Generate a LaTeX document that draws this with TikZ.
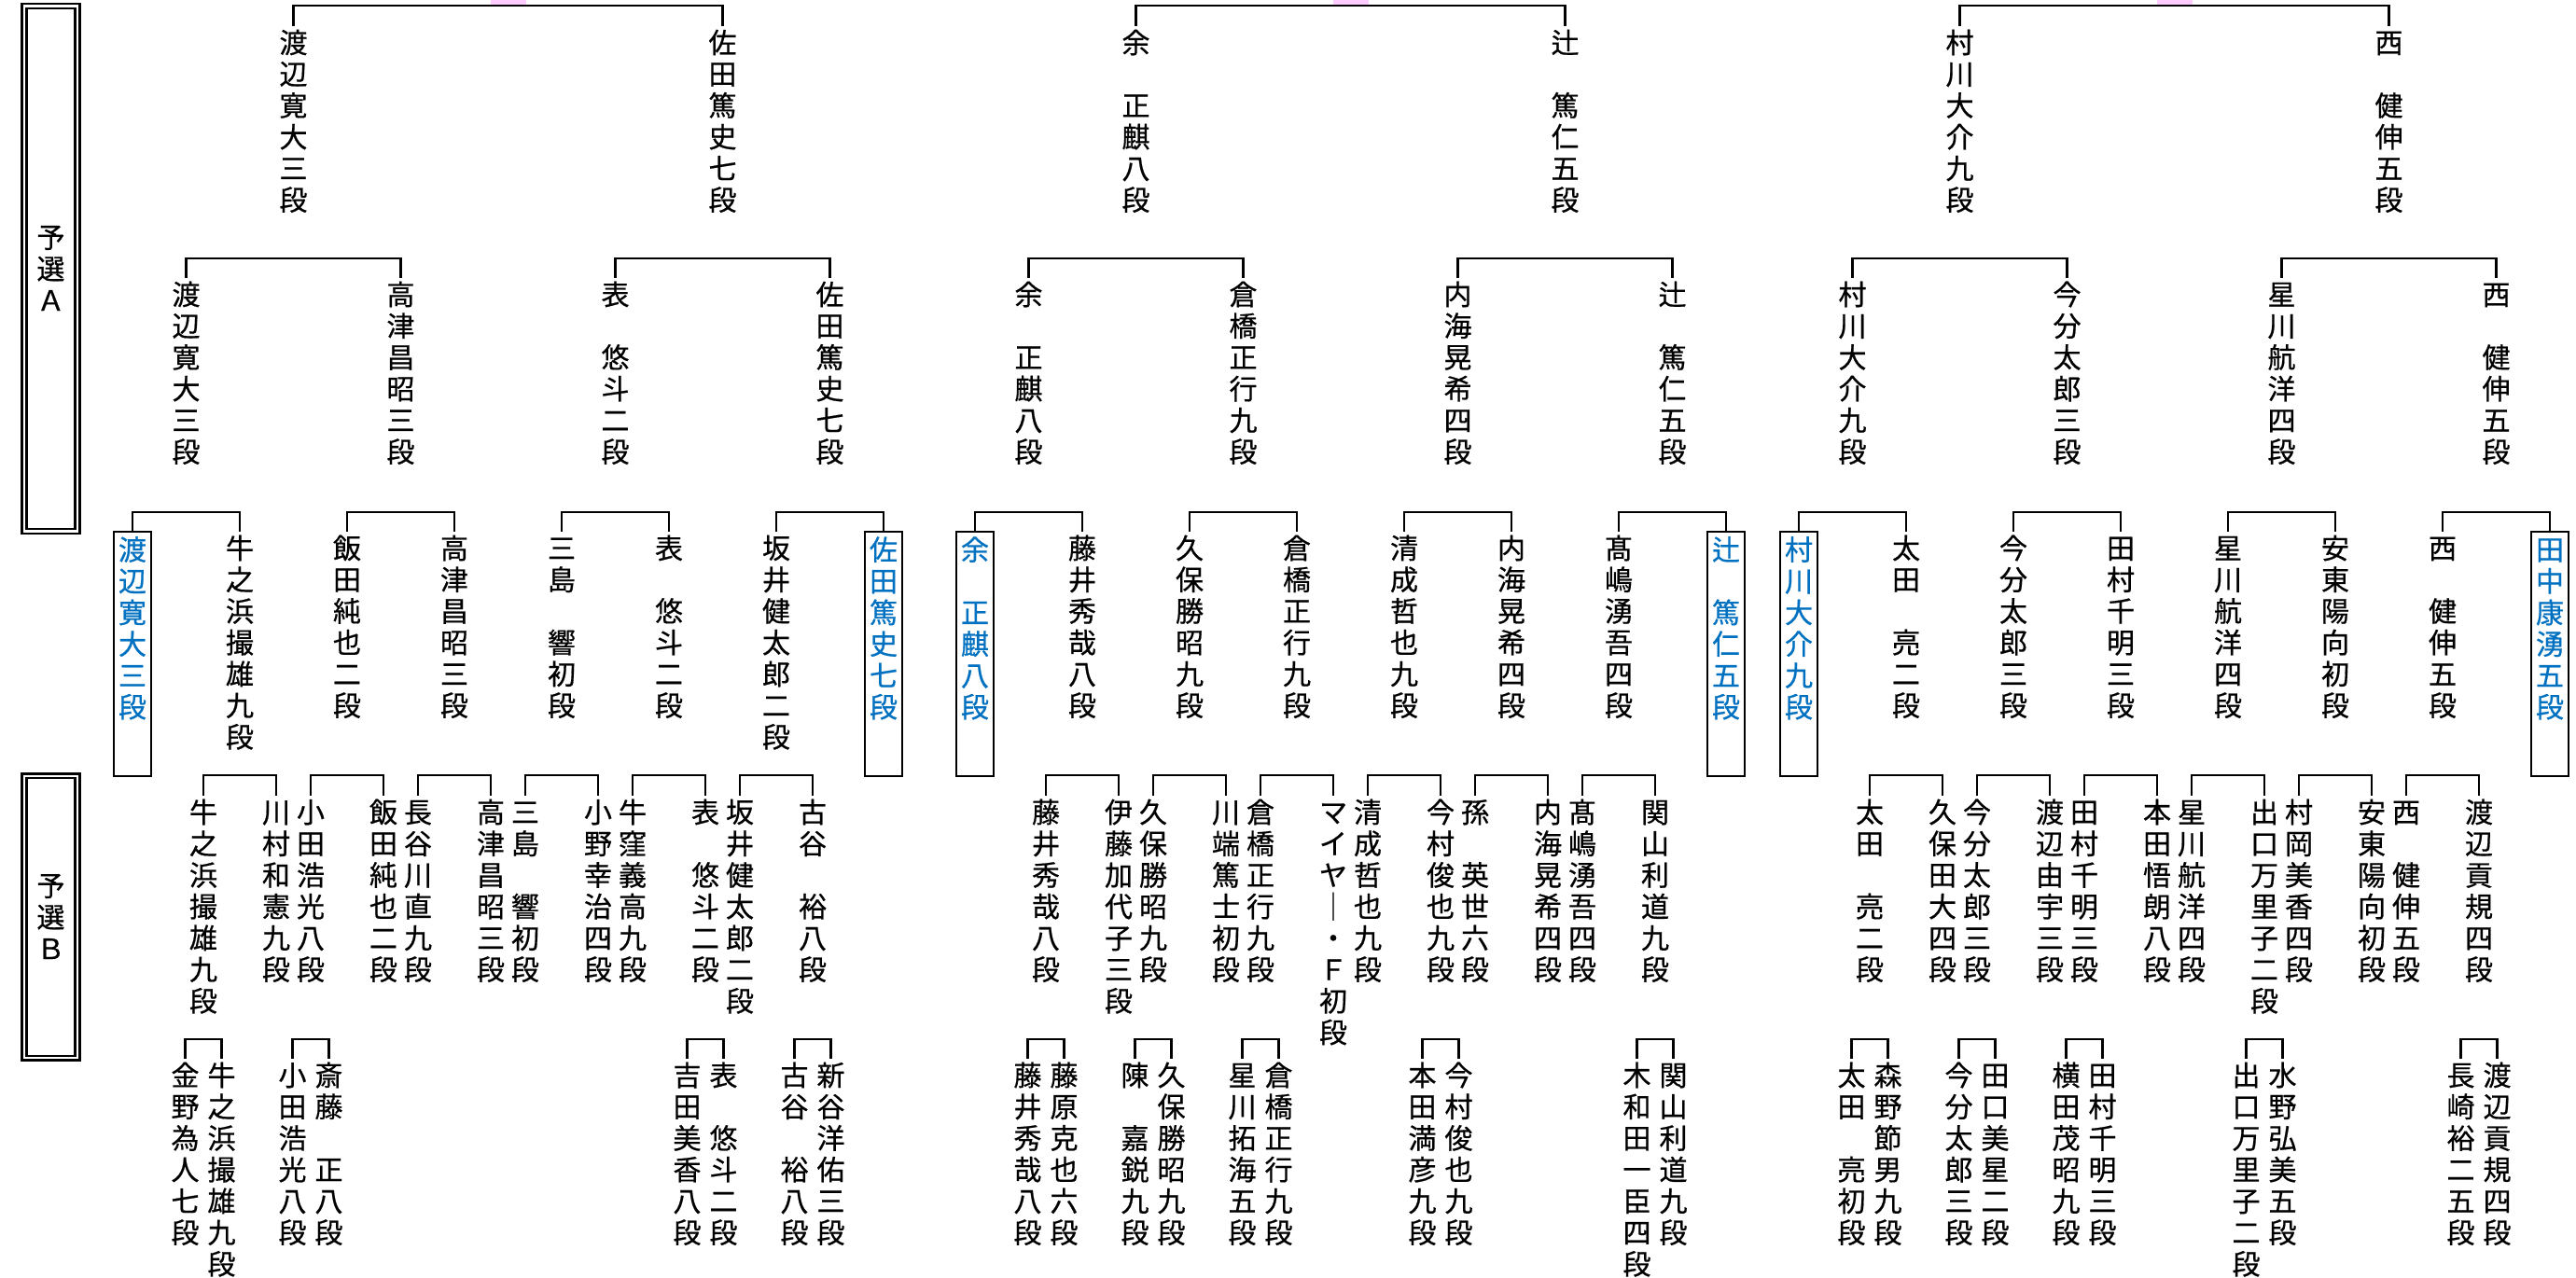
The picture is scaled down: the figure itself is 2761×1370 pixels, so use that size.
\documentclass[tikz,border=0pt]{standalone}
\usepackage{fontspec}
\newfontfamily\jpfont[FakeBold=0.6]{Noto Sans CJK JP}
\newcommand\namefont{\jpfont\fontsize{8.54pt}{9.59pt}\selectfont}
\definecolor{winblue}{RGB}{0,112,192}
\definecolor{markpink}{RGB}{255,204,255}

\makeatletter
\newcommand\tate[1]{\tate@#1\@nil}
\def\tate@#1#2\@nil{\tate@ch{#1}\ifx\relax#2\relax\expandafter\@gobble\else\expandafter\@firstofone\fi{\\\tate@#2\@nil}}
\def\tate@ch#1{\rule[-0.12em]{0pt}{1em}\ifx*#1\else#1\fi}
\makeatother

\begin{document}
\begin{tikzpicture}[
x=0.01cm, y=-0.01cm,
player/.style={anchor=north, inner sep=0pt, outer sep=0.7pt, align=center, font=\namefont},
winner/.style={player, text=winblue, inner xsep=1.42pt, inner ysep=1.14pt, outer sep=0pt},
bracket/.style={line width=0.75pt},
yosen/.style={draw, double, line width=0.75pt, double distance=0.65pt, inner sep=0pt, align=center, font=\namefont}]

\useasboundingbox (0,0) rectangle (2761,1370);

\node[yosen, minimum width=0.574cm, minimum height=5.624cm] (yosenA) at (54.5,288) {\tate{予選Ａ}};
\node[yosen, minimum width=0.574cm, minimum height=3.024cm] (yosenB) at (54.5,983) {\tate{予選Ｂ}};

\foreach \x in {544.5,1447.5,2330.5}
  \fill[markpink] (\x-19,0) rectangle (\x+19,5);

% row 1
\node[player] (t1) at (314.5,28) {\tate{渡辺寛大三段}};
\node[player] (t2) at (774.5,28) {\tate{佐田篤史七段}};
\node[player] (t3) at (1217.5,28) {\tate{余*正麒八段}};
\node[player] (t4) at (1677.5,28) {\tate{辻*篤仁五段}};
\node[player] (t5) at (2100.5,28) {\tate{村川大介九段}};
\node[player] (t6) at (2560.5,28) {\tate{西*健伸五段}};

% row 2
\node[player] (s1) at (199.5,298) {\tate{渡辺寛大三段}};
\node[player] (s2) at (429.5,298) {\tate{高津昌昭三段}};
\node[player] (s3) at (659.5,298) {\tate{表*悠斗二段}};
\node[player] (s4) at (889.5,298) {\tate{佐田篤史七段}};
\node[player] (s5) at (1102.5,298) {\tate{余*正麒八段}};
\node[player] (s6) at (1332.5,298) {\tate{倉橋正行九段}};
\node[player] (s7) at (1562.5,298) {\tate{内海晃希四段}};
\node[player] (s8) at (1792.5,298) {\tate{辻*篤仁五段}};
\node[player] (s9) at (1985.5,298) {\tate{村川大介九段}};
\node[player] (s10) at (2215.5,298) {\tate{今分太郎三段}};
\node[player] (s11) at (2445.5,298) {\tate{星川航洋四段}};
\node[player] (s12) at (2675.5,298) {\tate{西*健伸五段}};

% row 3
\node[winner] (q1) at (142,570) {\tate{渡辺寛大三段}};
\node[player] (q2) at (257,570) {\tate{牛之浜撮雄九段}};
\node[player] (q3) at (372,570) {\tate{飯田純也二段}};
\node[player] (q4) at (487,570) {\tate{高津昌昭三段}};
\node[player] (q5) at (602,570) {\tate{三島*響初段}};
\node[player] (q6) at (717,570) {\tate{表*悠斗二段}};
\node[player] (q7) at (832,570) {\tate{坂井健太郎二段}};
\node[winner] (q8) at (947,570) {\tate{佐田篤史七段}};
\node[winner] (q9) at (1045,570) {\tate{余*正麒八段}};
\node[player] (q10) at (1160,570) {\tate{藤井秀哉八段}};
\node[player] (q11) at (1275,570) {\tate{久保勝昭九段}};
\node[player] (q12) at (1390,570) {\tate{倉橋正行九段}};
\node[player] (q13) at (1505,570) {\tate{清成哲也九段}};
\node[player] (q14) at (1620,570) {\tate{内海晃希四段}};
\node[player] (q15) at (1735,570) {\tate{髙嶋湧吾四段}};
\node[winner] (q16) at (1850,570) {\tate{辻*篤仁五段}};
\node[winner] (q17) at (1928,570) {\tate{村川大介九段}};
\node[player] (q18) at (2043,570) {\tate{太田*亮二段}};
\node[player] (q19) at (2158,570) {\tate{今分太郎三段}};
\node[player] (q20) at (2273,570) {\tate{田村千明三段}};
\node[player] (q21) at (2388,570) {\tate{星川航洋四段}};
\node[player] (q22) at (2503,570) {\tate{安東陽向初段}};
\node[player] (q23) at (2618,570) {\tate{西*健伸五段}};
\node[winner] (q24) at (2733,570) {\tate{田中康湧五段}};

% row 4
\node[player] (p1) at (218,853) {\tate{牛之浜撮雄九段}};
\node[player] (p2) at (296,853) {\tate{川村和憲九段}};
\node[player] (p3) at (333,853) {\tate{小田浩光八段}};
\node[player] (p4) at (411,853) {\tate{飯田純也二段}};
\node[player] (p5) at (448,853) {\tate{長谷川直九段}};
\node[player] (p6) at (526,853) {\tate{高津昌昭三段}};
\node[player] (p7) at (563,853) {\tate{三島*響初段}};
\node[player] (p8) at (641,853) {\tate{小野幸治四段}};
\node[player] (p9) at (678,853) {\tate{牛窪義高九段}};
\node[player] (p10) at (756,853) {\tate{表*悠斗二段}};
\node[player] (p11) at (793,853) {\tate{坂井健太郎二段}};
\node[player] (p12) at (871,853) {\tate{古谷*裕八段}};
\node[player] (p13) at (1121,853) {\tate{藤井秀哉八段}};
\node[player] (p14) at (1199,853) {\tate{伊藤加代子三段}};
\node[player] (p15) at (1236,853) {\tate{久保勝昭九段}};
\node[player] (p16) at (1314,853) {\tate{川端篤士初段}};
\node[player] (p17) at (1351,853) {\tate{倉橋正行九段}};
\node[player] (p18) at (1429,853) {\tate{マイヤ｜・Ｆ初段}};
\node[player] (p19) at (1466,853) {\tate{清成哲也九段}};
\node[player] (p20) at (1544,853) {\tate{今村俊也九段}};
\node[player] (p21) at (1581,853) {\tate{孫*英世六段}};
\node[player] (p22) at (1659,853) {\tate{内海晃希四段}};
\node[player] (p23) at (1696,853) {\tate{髙嶋湧吾四段}};
\node[player] (p24) at (1774,853) {\tate{関山利道九段}};
\node[player] (p25) at (2004,853) {\tate{太田*亮二段}};
\node[player] (p26) at (2082,853) {\tate{久保田大四段}};
\node[player] (p27) at (2119,853) {\tate{今分太郎三段}};
\node[player] (p28) at (2197,853) {\tate{渡辺由宇三段}};
\node[player] (p29) at (2234,853) {\tate{田村千明三段}};
\node[player] (p30) at (2312,853) {\tate{本田悟朗八段}};
\node[player] (p31) at (2349,853) {\tate{星川航洋四段}};
\node[player] (p32) at (2427,853) {\tate{出口万里子二段}};
\node[player] (p33) at (2464,853) {\tate{村岡美香四段}};
\node[player] (p34) at (2542,853) {\tate{安東陽向初段}};
\node[player] (p35) at (2579,853) {\tate{西*健伸五段}};
\node[player] (p36) at (2657,853) {\tate{渡辺貢規四段}};

% row 5
\node[player] (f1) at (198.5,1135) {\tate{金野為人七段}};
\node[player] (f2) at (237.5,1135) {\tate{牛之浜撮雄九段}};
\node[player] (f3) at (313.5,1135) {\tate{小田浩光八段}};
\node[player] (f4) at (352.5,1135) {\tate{斎藤*正八段}};
\node[player] (f5) at (736.5,1135) {\tate{吉田美香八段}};
\node[player] (f6) at (775.5,1135) {\tate{表*悠斗二段}};
\node[player] (f7) at (851.5,1135) {\tate{古谷*裕八段}};
\node[player] (f8) at (890.5,1135) {\tate{新谷洋佑三段}};
\node[player] (f9) at (1101.5,1135) {\tate{藤井秀哉八段}};
\node[player] (f10) at (1140.5,1135) {\tate{藤原克也六段}};
\node[player] (f11) at (1216.5,1135) {\tate{陳*嘉鋭九段}};
\node[player] (f12) at (1255.5,1135) {\tate{久保勝昭九段}};
\node[player] (f13) at (1331.5,1135) {\tate{星川拓海五段}};
\node[player] (f14) at (1370.5,1135) {\tate{倉橋正行九段}};
\node[player] (f15) at (1524.5,1135) {\tate{本田満彦九段}};
\node[player] (f16) at (1563.5,1135) {\tate{今村俊也九段}};
\node[player] (f17) at (1754.5,1135) {\tate{木和田一臣四段}};
\node[player] (f18) at (1793.5,1135) {\tate{関山利道九段}};
\node[player] (f19) at (1984.5,1135) {\tate{太田*亮初段}};
\node[player] (f20) at (2023.5,1135) {\tate{森野節男九段}};
\node[player] (f21) at (2099.5,1135) {\tate{今分太郎三段}};
\node[player] (f22) at (2138.5,1135) {\tate{田口美星二段}};
\node[player] (f23) at (2214.5,1135) {\tate{横田茂昭九段}};
\node[player] (f24) at (2253.5,1135) {\tate{田村千明三段}};
\node[player] (f25) at (2407.5,1135) {\tate{出口万里子二段}};
\node[player] (f26) at (2446.5,1135) {\tate{水野弘美五段}};
\node[player] (f27) at (2637.5,1135) {\tate{長崎裕二五段}};
\node[player] (f28) at (2676.5,1135) {\tate{渡辺貢規四段}};

% brackets
\foreach \a/\b in {t1/t2,t3/t4,t5/t6}
  \draw[bracket] (\a.north) -- (\a.north |- 0,6) -| (\b.north);
\foreach \a/\b in {s1/s2,s3/s4,s5/s6,s7/s8,s9/s10,s11/s12}
  \draw[bracket] (\a.north) -- (\a.north |- 0,277) -| (\b.north);
\foreach \a/\b in {q1/q2,q3/q4,q5/q6,q7/q8,q9/q10,q11/q12,q13/q14,q15/q16,q17/q18,q19/q20,q21/q22,q23/q24}
  \draw[bracket] (\a.north) -- (\a.north |- 0,549) -| (\b.north);
\foreach \a/\b in {p1/p2,p3/p4,p5/p6,p7/p8,p9/p10,p11/p12,p13/p14,p15/p16,p17/p18,p19/p20,p21/p22,p23/p24,p25/p26,p27/p28,p29/p30,p31/p32,p33/p34,p35/p36}
  \draw[bracket] (\a.north) -- (\a.north |- 0,831) -| (\b.north);
\foreach \a/\b in {f1/f2,f3/f4,f5/f6,f7/f8,f9/f10,f11/f12,f13/f14,f15/f16,f17/f18,f19/f20,f21/f22,f23/f24,f25/f26,f27/f28}
  \draw[bracket] (\a.north) -- (\a.north |- 0,1114) -| (\b.north);

% winner boxes
\foreach \w in {q1,q8,q9,q16,q17,q24}
  \draw[bracket] (\w.north west) rectangle (\w.east |- 0,832);
\end{tikzpicture}
\end{document}
